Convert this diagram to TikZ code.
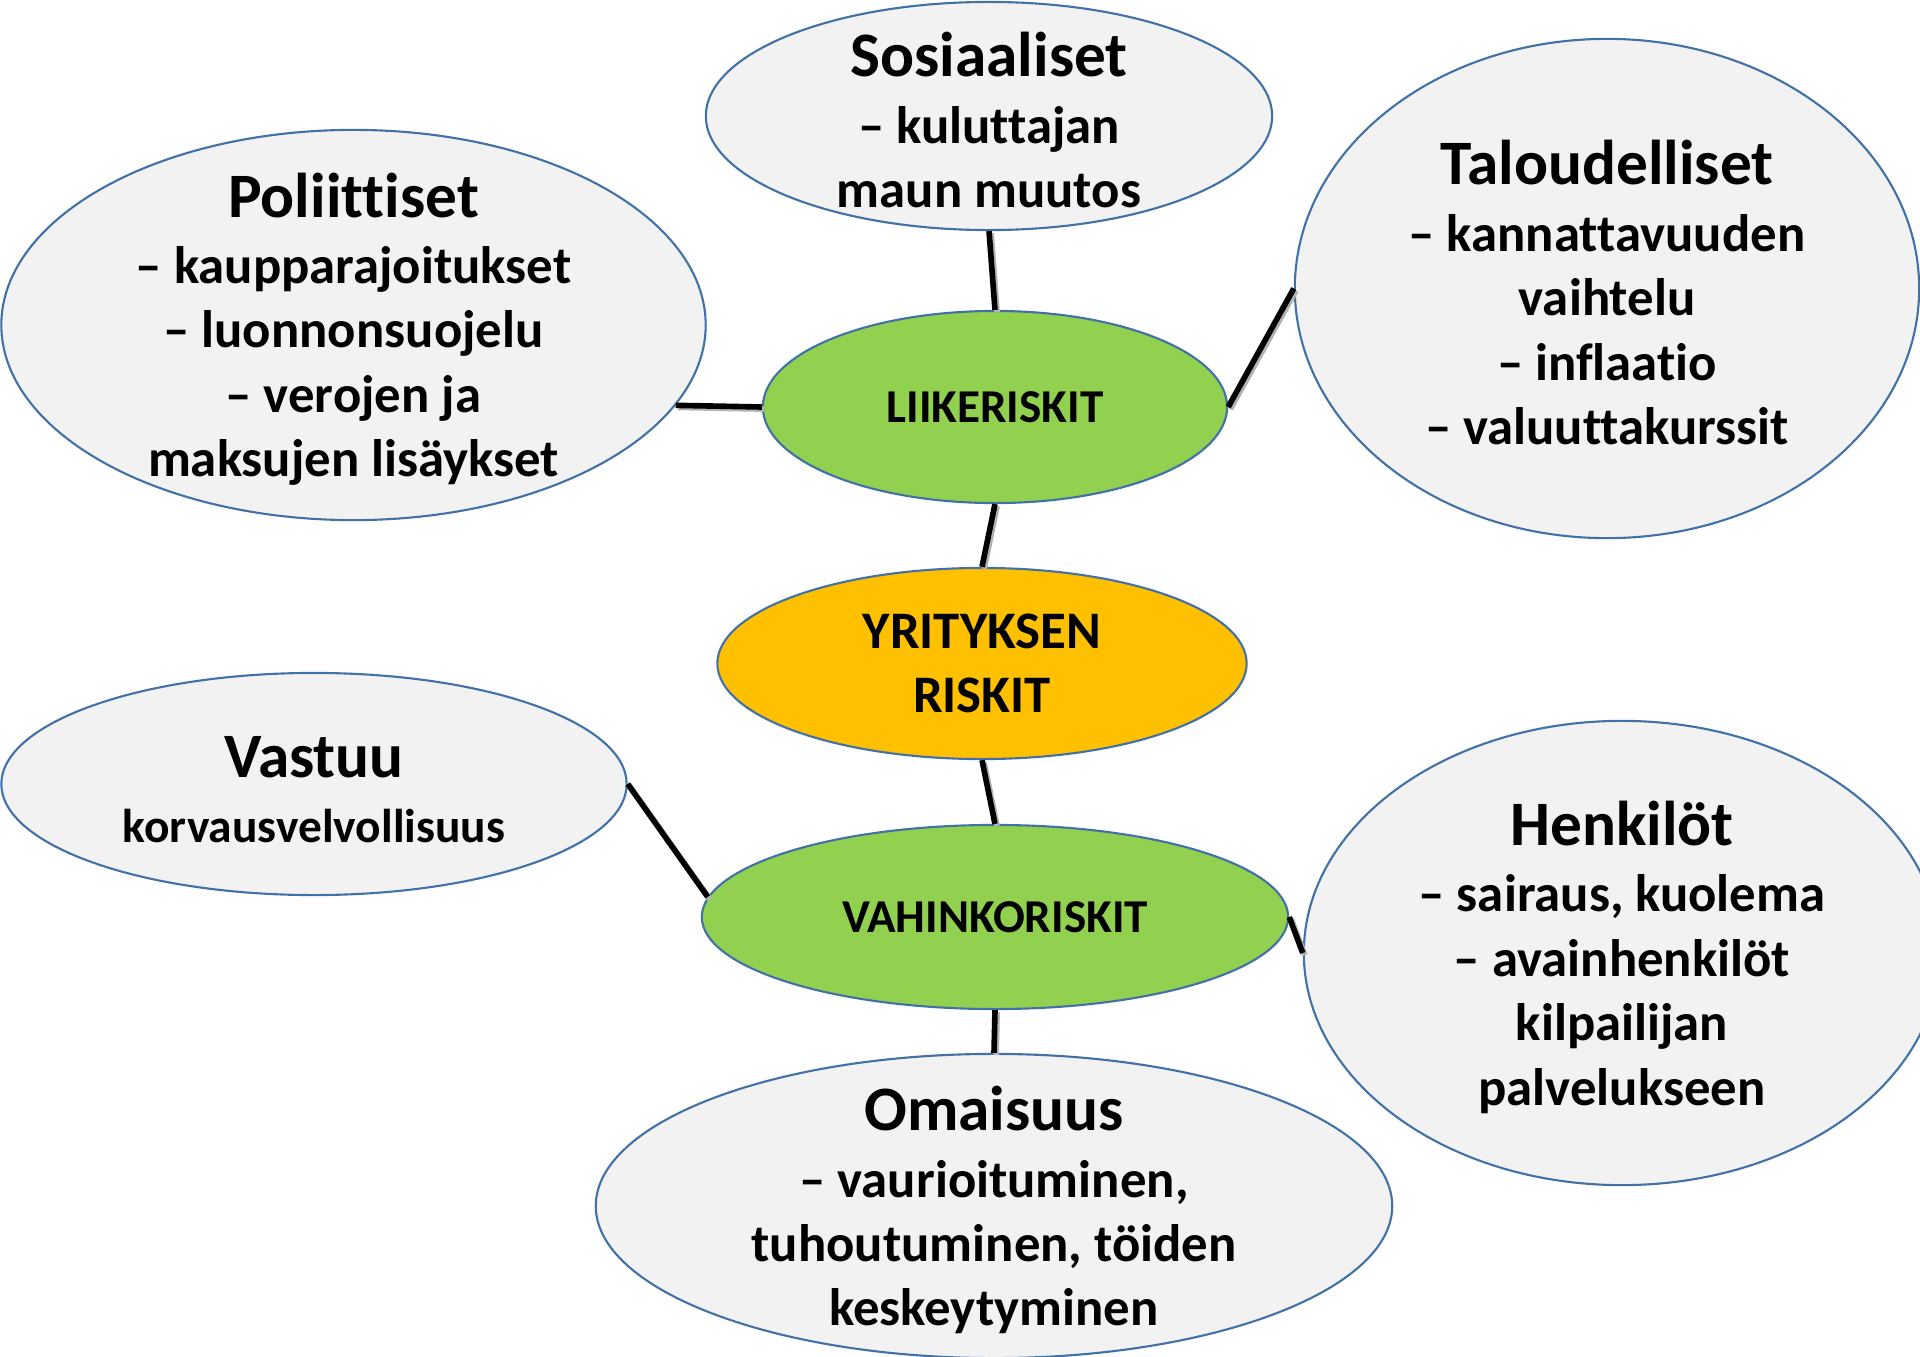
\documentclass[tikz,border=0pt]{standalone}
\usepackage{fontspec}
\setmainfont{Carlito}[Ligatures={NoCommon}]
\usetikzlibrary{shapes.geometric}
\definecolor{edgeblue}{RGB}{65,113,166}
\definecolor{bubblegray}{RGB}{242,242,242}
\definecolor{riskgreen}{RGB}{146,208,80}
\definecolor{coreorange}{RGB}{255,192,0}
\newcommand\bubbletitle[2][0.6pt]{{\fontsize{18}{18.3}\selectfont\rule{0pt}{15pt}#2}\\[#1]}
\begin{document}
\begin{tikzpicture}[x=0.01cm,y=-0.01cm,
  bubble/.style={ellipse, draw=edgeblue, line width=0.6pt, fill=bubblegray, inner sep=-1.5cm,
    align=center, font=\bfseries\fontsize{15}{18.3}\selectfont},
  riskbubble/.style={bubble, fill=riskgreen, font=\bfseries\fontsize{13.4}{18.3}\selectfont},
  corebubble/.style={bubble, fill=coreorange},
  link/.style={line width=1.6pt, draw=black,
    preaction={draw=black!30, line width=1.6pt, transform canvas={shift={(0.6pt,-0.6pt)}}}},
]
\useasboundingbox (0,0) rectangle (1920,1357);
\clip (0,0) rectangle (1920,1357);

\node[bubble, minimum width=5.66cm, minimum height=2.28cm] (sos) at (989,116)
  {\bubbletitle{Sosiaaliset}– kuluttajan\\maun muutos};
\node[bubble, minimum width=7.04cm, minimum height=3.90cm] (poli) at (353.5,325)
  {\bubbletitle{Poliittiset}– kaupparajoitukset\\– luonnonsuojelu\\– verojen ja\\maksujen lisäykset};
\node[bubble, minimum width=6.24cm, minimum height=4.99cm] (talo) at (1607,288.5)
  {\bubbletitle{Taloudelliset}– kannattavuuden\\vaihtelu\\– inflaatio\\– valuuttakurssit};
\node[riskbubble, minimum width=4.64cm, minimum height=1.92cm] (liike) at (995,407)
  {LIIKERISKIT};
\node[corebubble, minimum width=5.29cm, minimum height=1.91cm] (yrit) at (982,663.5)
  {YRITYKSEN\\RISKIT};
\node[bubble, minimum width=6.25cm, minimum height=2.22cm] (vastuu) at (314,784)
  {\bubbletitle[0.1pt]{Vastuu}{\fontsize{13.5}{18.3}\selectfont korvausvelvollisuus}};
\node[riskbubble, minimum width=5.86cm, minimum height=1.84cm] (vahinko) at (995,917)
  {VAHINKORISKIT};
\node[bubble, minimum width=6.36cm, minimum height=4.64cm] (henk) at (1622,953)
  {\bubbletitle{Henkilöt}– sairaus, kuolema\\– avainhenkilöt\\kilpailijan\\palvelukseen};
\node[bubble, minimum width=7.96cm, minimum height=3.04cm] (omai) at (994,1206)
  {\bubbletitle{Omaisuus}– vaurioituminen,\\tuhoutuminen, töiden\\keskeytyminen};

\draw[link] (sos.south) -- (liike.north);
\draw[link] (poli.-14.8) -- (liike.west);
\draw[link] (liike.east) -- (talo.west);
\draw[link] (liike.south) -- (yrit.north);
\draw[link] (yrit.south) -- (vahinko.north);
\draw[link] (vastuu.east) -- (vahinko.176);
\draw[link] (vahinko.east) -- (henk.west);
\draw[link] (vahinko.south) -- (omai.north);
\end{tikzpicture}
\end{document}
